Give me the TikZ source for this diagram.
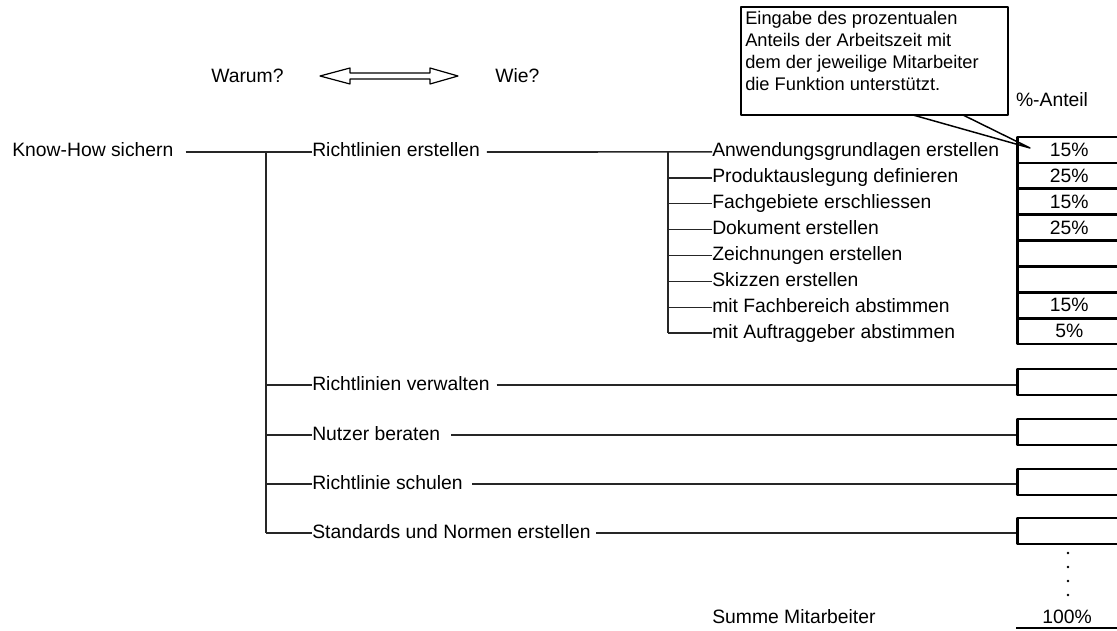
\documentclass[tikz,border=0pt]{standalone}
\usepackage{fontspec}
\setmainfont{Liberation Sans}
\usetikzlibrary{positioning}

\tikzset{
	item/.style = {anchor=west, inner sep=0pt, text height=10.5pt, text depth=3pt},
	cell/.style = {draw, line width=1.9pt, minimum width=78pt, minimum height=19.4pt,
		anchor=west, inner sep=0pt},
	branch/.style = {draw=black!85, line width=1.2pt},
}

\begin{document}
\begin{tikzpicture}[x=0.75pt, y=-0.75pt,
				line join=round,
				every node/.style = {font=\fontsize{14.5}{16.5}\selectfont}
				]
				\useasboundingbox (0,0) rectangle (1117,631);
				% head line
				\node[item] (why) at (211,78) {Warum?};
				\node[item] (how) at (495,78) {Wie?};
				\draw[line width=0.9pt]
				(320,76) -- (350,68) -- (350,73) -- (430,73) -- (430,68) --
				(458,76) -- (430,84) -- (430,79) -- (350,79) -- (350,84) -- cycle;
				% hint box
				\node[anchor=north west, inner sep=0pt, align=left,
					font=\fontsize{13.7}{16.5}\selectfont] (hint) at (745,11)
					{Eingabe des prozentualen\\Anteils der Arbeitszeit mit\\dem der jeweilige Mitarbeiter\\die Funktion unterstützt.};
				\draw[line width=1.1pt] (741,7) rectangle (1008,115);
				\node (pct) at (1052,100) {\%-Anteil};
				% tree
				\node[item] (ks) at (12,152) {Know-How sichern};
				\node[item] (re) at (312,152) {Richtlinien erstellen};
				\node[item] (rv) at (312,385) {Richtlinien verwalten};
				\node[item] (nb) at (312,435) {Nutzer beraten};
				\node[item] (rs) at (312,484) {Richtlinie schulen};
				\node[item] (sn) at (312,533) {Standards und Normen erstellen};
				\foreach \t [count=\i] in {Anwendungsgrundlagen erstellen, Produktauslegung definieren,
					Fachgebiete erschliessen, Dokument erstellen, Zeichnungen erstellen,
					Skizzen erstellen, mit Fachbereich abstimmen, mit Auftraggeber abstimmen}
					\node[item] (s\i) at (712,126+25.9*\i) {\t};
				\foreach \v [count=\i] in {15\%,25\%,15\%,25\%,{},{},15\%,5\%}
					\node[cell] (c\i) at (1016,124+25.9*\i) {\v};
				\node[cell] (cv) at (1016,382) {};
				\node[cell] (cn) at (1016,432) {};
				\node[cell] (cs) at (1016,482) {};
				\node[cell] (cc) at (1016,531) {};
				\coordinate (trunk) at (266,152);
				\coordinate (fork) at (668,152);
				\draw[branch] ([xshift=9pt]ks.east) -- (re.west);
				\draw[branch] (trunk) -- (trunk |- sn.west);
				\foreach \n in {rv,nb,rs,sn}
					\draw[branch] (trunk |- \n.west) -- (\n.west);
				\draw[branch] ([xshift=5pt]re.east) -- (s1.west);
				\draw[branch] (fork) -- (fork |- s8.west);
				\foreach \i in {2,...,8}
					\draw[branch] (fork |- s\i.west) -- (s\i.west);
				\draw[branch] ([xshift=5pt]rv.east) -- (rv.east -| cv.west);
				\draw[branch] ([xshift=8pt]nb.east) -- (nb.east -| cn.west);
				\draw[branch] ([xshift=7pt]rs.east) -- (rs.east -| cs.west);
				\draw[branch] ([xshift=4pt]sn.east) -- (sn.east -| cc.west);
				% pointer
				\coordinate (tip) at (1030,148);
				\draw[line width=1.1pt] (913,115) -- (tip) -- (963,115);
				% sum
				\foreach \y in {553,567,581,595}
					\fill (1068,\y) circle (1.1pt);
				\node[item] (sum) at (712,618) {Summe Mitarbeiter};
				\node (total) at (1067,617) {100\%};
				\coordinate (ul) at (1016,628);
				\draw[line width=1pt] (ul) -- ++(101,0);
\end{tikzpicture}
\end{document}
